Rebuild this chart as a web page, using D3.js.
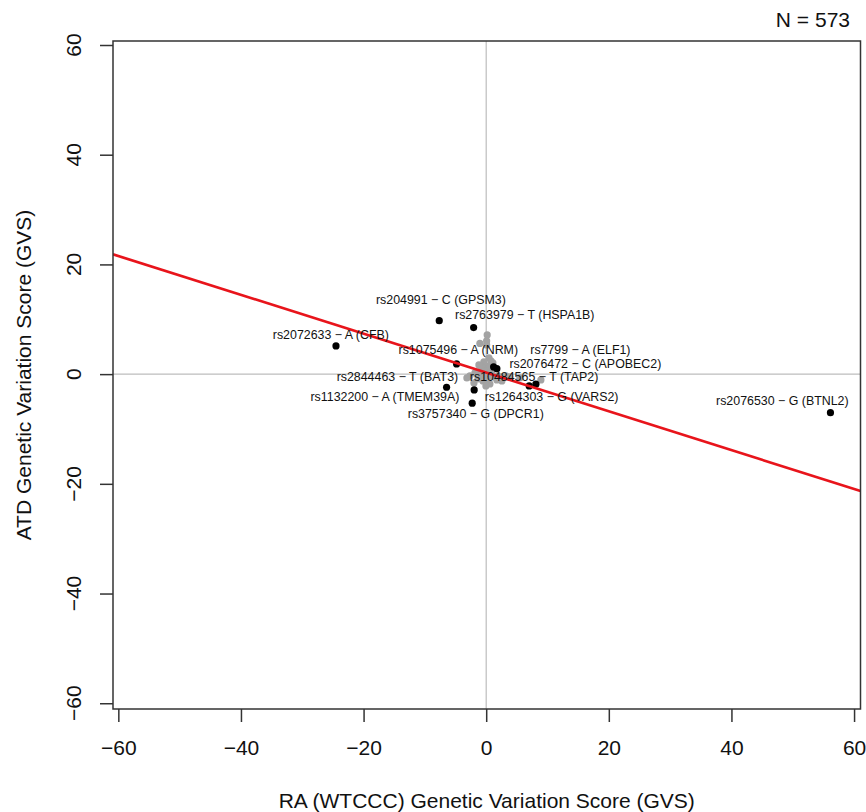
<!DOCTYPE html>
<html>
<head>
<meta charset="utf-8">
<script src="https://cdn.jsdelivr.net/npm/d3@7"></script>
<style>
  html, body { margin: 0; padding: 0; background: #fff; }
  svg { display: block; font-family: "Liberation Sans", Arial, Helvetica, sans-serif; }
</style>
</head>
<body>
<svg id="chart" width="866" height="812"></svg>
<script>
// ---------------- data ----------------
const xTicks = [-60, -40, -20, 0, 20, 40, 60];
const yTicks = [-60, -40, -20, 0, 20, 40, 60];

// labelled SNPs (black points)
const snpLabels = [
  "rs204991 \u2212 C (GPSM3)",
  "rs2763979 \u2212 T (HSPA1B)",
  "rs2072633 \u2212 A (CFB)",
  "rs1075496 \u2212 A (NRM)",
  "rs7799 \u2212 A (ELF1)",
  "rs2076472 \u2212 C (APOBEC2)",
  "rs2844463 \u2212 T (BAT3)",
  "rs1132200 \u2212 A (TMEM39A)",
  "rs3757340 \u2212 G (DPCR1)",
  "rs10484565 \u2212 T (TAP2)",
  "rs1264303 \u2212 G (VARS2)",
  "rs2076530 \u2212 G (BTNL2)"
];
const snpX = [-7.66, -2.05, -24.5, -4.83, 1.74, 1.21, -6.46, -1.96, -2.28, 7.01, 8.10, 56.15];
const snpY = [9.75, 8.48, 5.14, 1.86, 1.00, 1.31, -2.39, -2.88, -5.30, -2.15, -1.84, -7.02];
// where each label text is centred (data units)
const labelX = [-7.39, 6.29, -25.34, -4.55, 15.36, 16.17, -14.48, -16.52, -1.70, 7.81, 10.66, 48.3];
const labelY = [13.65, 10.92, 7.15, 4.50, 4.50, 1.95, -0.35, -4.16, -7.25, -0.35, -4.16, -4.76];

// unlabelled SNPs (grey points)
const greyX = [0.16, 0.07, 0.07, -1.03, 0.44, 0.77, -0.38, -0.05, 0.60, -0.70, 0.28, -0.38, 0.93, -1.19,
               -0.05, -0.86, 0.60, -1.84, -2.66, -3.15, -0.38, 1.26, 1.91, 2.72, 3.21, 3.86, 2.56, 1.74,
               0.28, -0.54, 0.60, -0.05, -1.35, -2.00, 8.92, 5.49, 1.09, -1.19];
const greyY = [7.15, 6.05, 5.32, 5.60, 2.95, 2.41, 2.22, 1.49, 1.49, 1.13, 0.77, 0.58, 0.40, 0.40,
               0.04, -0.15, -0.15, 0.22, -0.33, -0.69, -0.51, -0.51, -0.33, -0.51, -0.33, -0.51, -1.24, -1.06,
               -1.06, -1.24, -1.79, -2.15, -0.87, -1.60, -1.06, -0.69, 2.04, 1.68];

// regression line
const fitIntercept = 0.30;
const fitSlope = -0.354;

const nLabel = "N = 573";
const xTitle = "RA (WTCCC) Genetic Variation Score (GVS)";
const yTitle = "ATD Genetic Variation Score (GVS)";

// ---------------- layout ----------------
const svg = d3.select("#chart");
const box = { left: 113, right: 860.5, top: 41, bottom: 709 };
const x = d3.scaleLinear().domain([-60.87, 61.05]).range([box.left, box.right]);
const y = d3.scaleLinear().domain([-61.05, 60.73]).range([box.bottom, box.top]);
const FONT = 21;

svg.append("defs").append("clipPath").attr("id", "plotclip")
  .append("rect").attr("x", box.left).attr("y", box.top)
  .attr("width", box.right - box.left).attr("height", box.bottom - box.top);

const plot = svg.append("g").attr("clip-path", "url(#plotclip)");

// reference lines at zero
plot.append("line").attr("x1", x(0)).attr("x2", x(0)).attr("y1", box.top).attr("y2", box.bottom)
  .attr("stroke", "#bdbdbd").attr("stroke-width", 1.2);
plot.append("line").attr("x1", box.left).attr("x2", box.right).attr("y1", y(0)).attr("y2", y(0))
  .attr("stroke", "#bdbdbd").attr("stroke-width", 1.2);

// grey points
plot.selectAll("circle.grey").data(greyX.map((v, i) => [v, greyY[i]])).enter()
  .append("circle").attr("class", "grey")
  .attr("cx", d => x(d[0])).attr("cy", d => y(d[1])).attr("r", 3.6)
  .attr("fill", "#a3a3a3");

// black points
plot.selectAll("circle.snp").data(snpX.map((v, i) => [v, snpY[i]])).enter()
  .append("circle").attr("class", "snp")
  .attr("cx", d => x(d[0])).attr("cy", d => y(d[1])).attr("r", 3.6)
  .attr("fill", "#000");

// regression line
const xd = x.domain();
plot.append("line")
  .attr("x1", x(xd[0])).attr("y1", y(fitIntercept + fitSlope * xd[0]))
  .attr("x2", x(xd[1])).attr("y2", y(fitIntercept + fitSlope * xd[1]))
  .attr("stroke", "#e8141b").attr("stroke-width", 2.6);

// labels
svg.selectAll("text.snplab").data(snpLabels).enter()
  .append("text").attr("class", "snplab")
  .attr("x", (d, i) => x(labelX[i])).attr("y", (d, i) => y(labelY[i]))
  .attr("dy", "0.36em").attr("text-anchor", "middle")
  .attr("font-size", 12.4).attr("fill", "#111")
  .text(d => d);

// box
svg.append("rect").attr("x", box.left).attr("y", box.top)
  .attr("width", box.right - box.left).attr("height", box.bottom - box.top)
  .attr("fill", "none").attr("stroke", "#333").attr("stroke-width", 1.5);

// x axis
const xAxis = svg.append("g").attr("transform", `translate(0,${box.bottom})`)
  .call(d3.axisBottom(x).tickValues(xTicks).tickSize(13).tickPadding(18));
xAxis.select(".domain").remove();
xAxis.selectAll(".tick line").attr("stroke", "#333").attr("stroke-width", 1.5);
xAxis.selectAll(".tick text").attr("font-size", FONT).attr("fill", "#111")
  .attr("font-family", "Liberation Sans, Arial, sans-serif");

// y axis (labels rotated, as in R)
const yAxis = svg.append("g").attr("transform", `translate(${box.left},0)`)
  .call(d3.axisLeft(y).tickValues(yTicks).tickSize(13).tickFormat(() => ""));
yAxis.select(".domain").remove();
yAxis.selectAll(".tick line").attr("stroke", "#333").attr("stroke-width", 1.5);
svg.selectAll("text.ytick").data(yTicks).enter()
  .append("text").attr("class", "ytick")
  .attr("transform", d => `translate(73,${y(d)}) rotate(-90)`)
  .attr("text-anchor", "middle").attr("dy", "0.36em")
  .attr("font-size", FONT).attr("fill", "#111")
  .text(d => d3.format("d")(d));

// titles
svg.append("text").attr("x", (box.left + box.right) / 2).attr("y", 808)
  .attr("text-anchor", "middle").attr("font-size", FONT).attr("fill", "#111")
  .text(xTitle);
svg.append("text").attr("transform", `translate(23,${(box.top + box.bottom) / 2}) rotate(-90)`)
  .attr("text-anchor", "middle").attr("dy", "0.36em").attr("font-size", FONT).attr("fill", "#111")
  .text(yTitle);
svg.append("text").attr("x", 850).attr("y", 27).attr("text-anchor", "end")
  .attr("font-size", FONT).attr("fill", "#111").text(nLabel);
</script>
</body>
</html>
